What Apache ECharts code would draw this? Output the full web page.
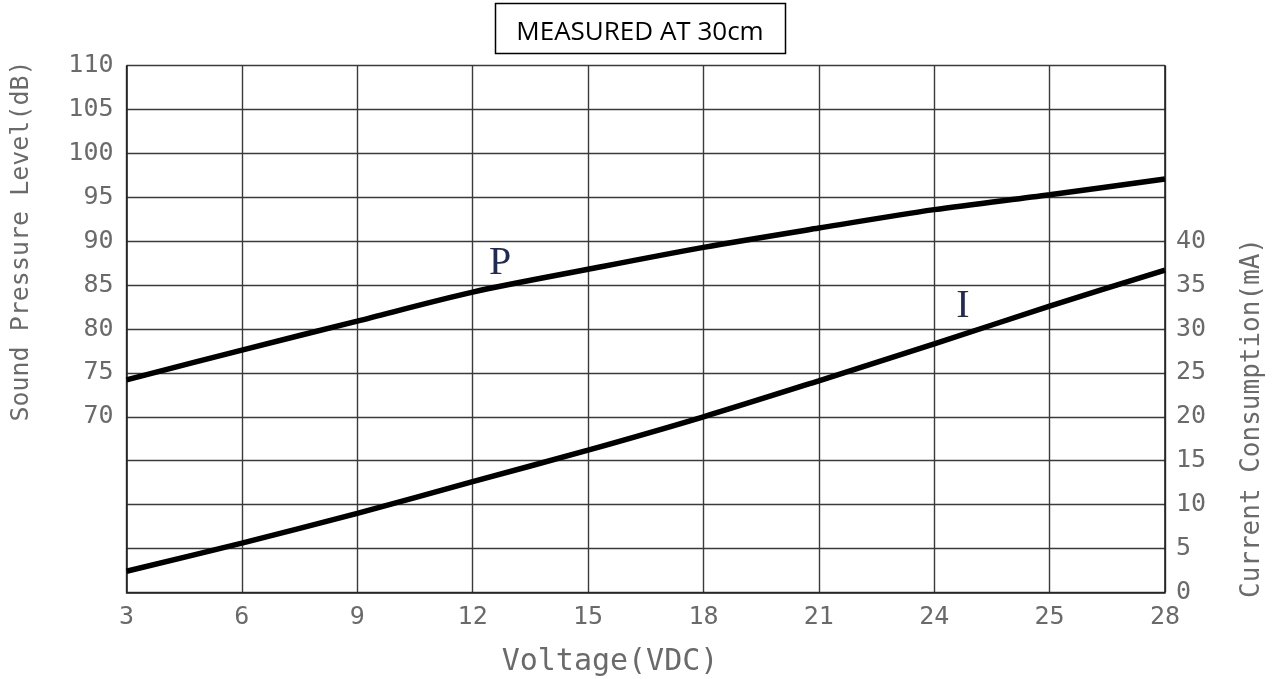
<!DOCTYPE html>
<html>
<head>
<meta charset="utf-8">
<script src="https://cdn.jsdelivr.net/npm/echarts@6/dist/echarts.min.js"></script>
<style>html,body{margin:0;padding:0;background:#fff;}#c{width:1272px;height:679px;}</style>
</head>
<body>
<div id="c"></div>
<script>
const voltages = ['3','6','9','12','15','18','21','24','25','28'];
const splValues = [74.2, 77.6, 80.9, 84.2, 86.8, 89.3, 91.5, 93.6, 95.3, 97.1];
const currentValues = [2.4, 5.6, 9.0, 12.6, 16.2, 20.0, 24.1, 28.3, 32.6, 36.7];
const title = 'MEASURED AT 30cm';
const leftName = 'Sound Pressure Level(dB)';
const rightName = 'Current Consumption(mA)';
const xName = 'Voltage(VDC)';

const mono = '"DejaVu Sans Mono", monospace';
const labelColor = '#6a6a6a';
const chart = echarts.init(document.getElementById('c'));
chart.setOption({
  animation: false,
  backgroundColor: '#fff',
  grid: { left: 126.5, right: 107, top: 65.7, bottom: 86.7, show: false },
  xAxis: {
    type: 'category', data: voltages, boundaryGap: false,
    axisLine: { show: true, lineStyle: { color: '#222', width: 1.6 } },
    axisTick: { show: false },
    axisLabel: { margin: 13, fontFamily: mono, fontSize: 25, color: labelColor },
    splitLine: { show: true, lineStyle: { color: '#3a3a3a', width: 1.4 } }
  },
  yAxis: [
    {
      type: 'value', min: 50, max: 110, interval: 5, position: 'left',
      axisLine: { show: true, lineStyle: { color: '#222', width: 1.6 } },
      axisTick: { show: false },
      axisLabel: { margin: 13, fontFamily: mono, fontSize: 25, color: labelColor,
        formatter: v => (v >= 70 ? String(v) : '') },
      splitLine: { show: true, lineStyle: { color: '#3a3a3a', width: 1.4 } }
    },
    {
      type: 'value', min: 0, max: 60, interval: 5, position: 'right',
      axisLine: { show: true, lineStyle: { color: '#222', width: 1.6 } },
      axisTick: { show: false },
      axisLabel: { margin: 11, fontFamily: mono, fontSize: 25, color: labelColor,
        formatter: v => (v <= 40 ? String(v) : '') },
      splitLine: { show: false }
    }
  ],
  series: [
    { name: 'P', type: 'line', yAxisIndex: 0, data: splValues, smooth: 0.3,
      symbol: 'none', lineStyle: { color: '#000', width: 5.5 } },
    { name: 'I', type: 'line', yAxisIndex: 1, data: currentValues, smooth: 0.3,
      symbol: 'none', lineStyle: { color: '#000', width: 5.5 } }
  ],
  graphic: [
    { type: 'rect', shape: { x: 495.5, y: 3.5, width: 290, height: 50 },
      style: { fill: '#fff', stroke: '#000', lineWidth: 1.5 } },
    { type: 'text', x: 640, y: 33, style: { text: title, fontFamily: '"Open Sans", sans-serif',
      fontSize: 26, fill: '#000', align: 'center', verticalAlign: 'middle' } },
    { type: 'text', x: 21, y: 241, rotation: Math.PI / 2, style: { text: leftName, fontFamily: mono,
      fontSize: 25, fill: labelColor, align: 'center', verticalAlign: 'middle' } },
    { type: 'text', x: 1252, y: 418, rotation: Math.PI / 2, style: { text: rightName, fontFamily: mono,
      fontSize: 26, fill: labelColor, align: 'center', verticalAlign: 'middle' } },
    { type: 'text', x: 610, y: 662, style: { text: xName, fontFamily: mono,
      fontSize: 30, fill: labelColor, align: 'center', verticalAlign: 'middle' } },
    { type: 'text', x: 500, y: 263, style: { text: 'P', fontFamily: '"Liberation Serif", serif',
      fontSize: 40, fill: '#1f2a55', align: 'center', verticalAlign: 'middle' } },
    { type: 'text', x: 963, y: 306, style: { text: 'I', fontFamily: '"Liberation Serif", serif',
      fontSize: 40, fill: '#1f2a55', align: 'center', verticalAlign: 'middle' } }
  ]
});
</script>
</body>
</html>
